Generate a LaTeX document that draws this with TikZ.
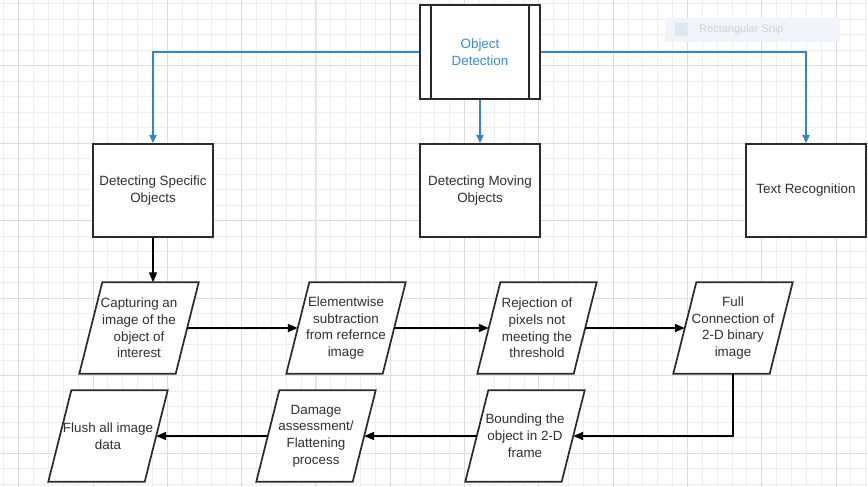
\documentclass[tikz,border=0pt]{standalone}
\usepackage{fontspec}
\setmainfont{Liberation Sans}
\usetikzlibrary{arrows.meta,calc}

\pgfdeclarelayer{gridlayer}
\pgfdeclarelayer{shapelayer}
\pgfsetlayers{gridlayer,shapelayer,main}

\definecolor{gridminor}{HTML}{EEEEEE}
\definecolor{gridmajor}{HTML}{DCDCDC}
\definecolor{flowblue}{HTML}{2F87C8}
\definecolor{labelblue}{HTML}{3A8ED0}
\definecolor{ink}{HTML}{2A2A2A}
\definecolor{textgray}{HTML}{303030}
\definecolor{snipfill}{HTML}{F1F5FB}
\definecolor{snipicon}{HTML}{DDE7F4}
\definecolor{sniptext}{HTML}{CDD2D8}

\begin{document}
\begin{tikzpicture}[x=1pt,y=-1pt,
  every node/.style={font=\fontsize{13.4}{16.8}\selectfont, text=textgray, align=center, inner sep=0pt},
  procbox/.style={draw=ink, line width=1.9pt, fill=white, minimum width=120pt, minimum height=93pt},
  iobox/.style={minimum width=96pt, minimum height=91pt},
  bluelink/.style={draw=flowblue, line width=1.9pt, -{Triangle[length=8pt,width=7pt]}},
  blacklink/.style={draw=black, line width=1.8pt, -{Triangle[length=10pt,width=8pt]}},
  ]
\useasboundingbox (0,0) rectangle (868,487);

% squared paper
\begin{pgfonlayer}{gridlayer}
  \fill[white] (0,0) rectangle (868,487);
  \foreach \i in {-1,...,57} {
    \pgfmathsetmacro\gx{18.7+14.86*\i}
    \draw[gridminor, line width=0.8pt] (\gx,0) -- (\gx,487);
  }
  \foreach \j in {0,...,31} {
    \pgfmathsetmacro\gy{3.5+15.5*\j}
    \draw[gridminor, line width=0.8pt] (0,\gy) -- (868,\gy);
  }
  \foreach \k in {0,...,11} {
    \pgfmathsetmacro\gx{18.7+74.3*\k}
    \draw[gridmajor, line width=0.9pt] (\gx,0) -- (\gx,487);
  }
  \foreach \k in {-1,...,5} {
    \pgfmathsetmacro\gy{65.5+77.5*\k}
    \draw[gridmajor, line width=0.9pt] (0,\gy) -- (868,\gy);
  }
\end{pgfonlayer}

% faint snipping-tool tag
\node[fill=snipfill, minimum width=175pt, minimum height=24pt] (snip) at (752,30) {};
\node[fill=snipicon, minimum width=13pt, minimum height=13pt, text=sniptext,
      font=\fontsize{7}{8}\selectfont] (snipicon) at (681,30) {$\times$};
\node[text=sniptext, font=\fontsize{11}{13}\selectfont, anchor=west] (sniplabel) at (699,30) {Rectangular Snip};

% top-level process
\node[procbox, minimum height=94pt, text=labelblue] (od) at (480,52) {Object\\Detection};
\draw[ink, line width=1.9pt] ([xshift=12pt]od.north west) -- ([xshift=12pt]od.south west);
\draw[ink, line width=1.9pt] ([xshift=-12pt]od.north east) -- ([xshift=-12pt]od.south east);

% detection categories
\node[procbox] (dso) at (153,190.5) {Detecting Specific\\Objects};
\node[procbox] (dmo) at (480,190.5) {Detecting Moving\\Objects};
\node[procbox] (tr)  at (806,190.5) {Text Recognition};

% processing steps (parallelograms drawn behind)
\node[iobox] (p1) at (139,328) {Capturing an\\image of the\\object of\\interest};
\node[iobox] (p2) at (346,328) {Elementwise\\subtraction\\from refernce\\image};
\node[iobox] (p3) at (537,328) {Rejection of\\pixels not\\meeting the\\threshold};
\node[iobox] (p4) at (733,328) {Full\\Connection of\\2-D binary\\image};
\node[iobox] (q1) at (108,436) {Flush all image\\data};
\node[iobox] (q2) at (316,436) {Damage\\assessment/\\Flattening\\process};
\node[iobox] (q3) at (525,436) {Bounding the\\object in 2-D\\frame};

\begin{pgfonlayer}{shapelayer}
  \foreach \n in {p1,p2,p3,p4,q1,q2,q3}
    \draw[ink, line width=1.7pt, fill=white, line join=miter]
      ([xshift=11.5pt]\n.north west) -- ([xshift=11.5pt]\n.north east) --
      ([xshift=-11.5pt]\n.south east) -- ([xshift=-11.5pt]\n.south west) -- cycle;
\end{pgfonlayer}

% connectors
\draw[bluelink] (od.west) -| (dso.north);
\draw[bluelink] (od.south) -- (dmo.north);
\draw[bluelink] (od.east) -| (tr.north);

\draw[blacklink] (dso.south) -- (dso.south |- p1.north);
\draw[blacklink] (p1.east) -- (p2.west);
\draw[blacklink] (p2.east) -- (p3.west);
\draw[blacklink] (p3.east) -- (p4.west);
\draw[blacklink] (p4.south) |- (q3.east);
\draw[blacklink] (q3.west) -- (q2.east);
\draw[blacklink] (q2.west) -- (q1.east);
\end{tikzpicture}
\end{document}
